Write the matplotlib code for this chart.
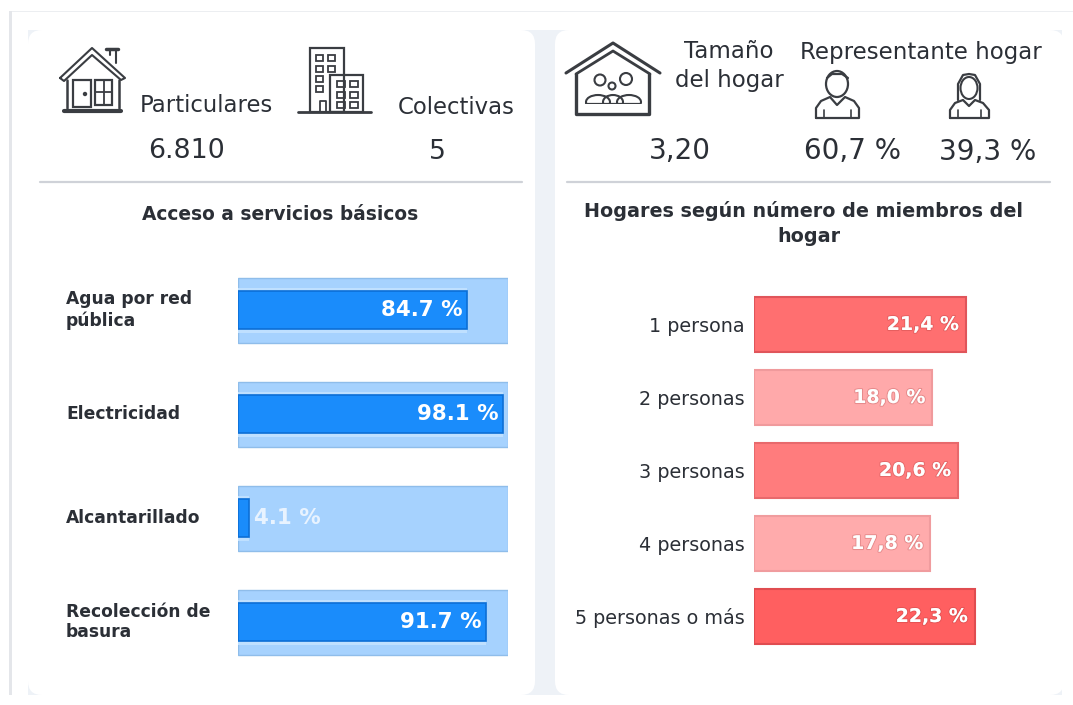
import matplotlib
matplotlib.use("Agg")
import matplotlib.pyplot as plt
import matplotlib.patheffects as pe
from matplotlib.patches import Rectangle, Circle, FancyBboxPatch, Ellipse

plt.rcParams['font.family'] = ['DejaVu Sans']

W, H = 1073, 705
TEXT = '#2b2f36'

# servicios basicos
services = ["Agua por red\npública", "Electricidad", "Alcantarillado", "Recolección de\nbasura"]
service_values = [84.7, 98.1, 4.1, 91.7]
service_labels = ["84.7 %", "98.1 %", "4.1 %", "91.7 %"]

# miembros del hogar
members = ["1 persona", "2 personas", "3 personas", "4 personas", "5 personas o más"]
member_values = [21.4, 18.0, 20.6, 17.8, 22.3]
member_labels = ["21,4 %", "18,0 %", "20,6 %", "17,8 %", "22,3 %"]
member_colors = ['#ff6f70', '#ffa9aa', '#ff7c7d', '#ffabac', '#ff5f60']
member_edges = ['#e0555a', '#f09a9c', '#e8696c', '#f09c9e', '#e04c50']

fig = plt.figure(figsize=(W / 100, H / 100), dpi=100, facecolor='white')


def px_axes(x0, y0, x1, y1, **kw):
    return fig.add_axes([x0 / W, 1 - y1 / H, (x1 - x0) / W, (y1 - y0) / H], **kw)


bg = px_axes(0, 0, W, H)
bg.set_xlim(0, W)
bg.set_ylim(H, 0)
bg.axis('off')


def line(xs, ys, lw=1.8, color='#3a3d42'):
    bg.plot(xs, ys, color=color, lw=lw, solid_capstyle='round', solid_joinstyle='round')


def box(x0, y0, x1, y1, lw=1.6):
    bg.add_patch(Rectangle((x0, y0), x1 - x0, y1 - y0, fill=False, ec='#3a3d42', lw=lw, zorder=4))


# fondo y tarjetas
bg.add_patch(Rectangle((9, 11), W - 9, 1, color='#eceef1', lw=0))
bg.add_patch(Rectangle((9, 11), 3, 684, color='#e4e6ea', lw=0))
bg.add_patch(Rectangle((12, 30), 1050, 665, color='#eef2f7', lw=0))
bg.add_patch(Rectangle((12, 12), 1061, 18, color='white', lw=0))
for x0, x1 in [(28, 535), (555, 1064)]:
    bg.add_patch(FancyBboxPatch((x0 + 14, 30 + 14), x1 - x0 - 28, 665 - 28,
                                boxstyle="round,pad=14,rounding_size=14", fc='white', ec='none'))
bg.add_patch(Rectangle((12, 30), 16, 665, color='white', lw=0))
bg.add_patch(Rectangle((1064, 30), 9, 665, color='white', lw=0))

# casa particular
line([60, 92, 125, 121, 92, 64, 60], [78, 48, 78, 80, 55, 81, 78], 1.5)
line([110, 110], [55, 49], 1.5); line([116, 116], [49, 63], 1.5)
line([106, 118], [49, 49], 2.5)
line([67, 67], [80, 108]); line([119, 119], [80, 108])
box(73, 80, 91, 107); box(95, 80, 112, 105)
line([103.5, 103.5], [80, 105], 1.3); line([95, 112], [92, 92], 1.3)
bg.add_patch(Circle((85, 94), 1.5, color='#3a3d42'))
line([64, 121], [111, 111], 3)

# edificio colectivas
box(310, 48, 344, 112)
bg.add_patch(Rectangle((330, 75), 33, 37, fc='white', ec='#3a3d42', lw=1.6, zorder=3))
for wy in [55, 66, 76, 86]:
    for wx in [316, 328]:
        if wx == 328 and wy > 70:
            continue
        box(wx, wy, wx + 7, wy + 6, 1.3)
for wy in [81, 92, 102]:
    for wx in [337, 350]:
        box(wx, wy, wx + 8, wy + 6, 1.3)
line([320, 320, 326, 326], [112, 101, 101, 112], 1.3)
line([298, 371], [112, 112], 2)

# casa familia
line([566, 613, 660], [73, 43, 73], 2.2)
line([576, 613, 650], [74, 51, 74], 2)
line([576, 576, 649, 649], [74, 114, 114, 74], 2.4)
for cx, cy, r in [(600, 80, 5.5), (626, 79, 6), (612, 86, 3.5)]:
    bg.add_patch(Circle((cx, cy), r, fill=False, ec='#3a3d42', lw=1.5))
for cx, wd in [(598, 24), (629, 24), (613, 20)]:
    bg.add_patch(Ellipse((cx, 102), wd, 14, fill=False, ec='#3a3d42', lw=1.5))
bg.add_patch(Rectangle((584, 104), 58, 8, color='white', lw=0, zorder=3))
line([586, 640], [104, 104], 1.6)

# hombre y mujer
bg.add_patch(Ellipse((837, 84), 22, 26, fill=False, ec='#3a3d42', lw=1.6))
line([827, 832, 842, 848], [78, 74, 74, 78], 1.6)
line([816, 816, 821, 830, 837, 845, 854, 859, 859, 816], [118, 108, 101, 97, 105, 97, 101, 108, 118, 118], 1.6)
line([824, 824], [110, 118], 1.2); line([851, 851], [110, 118], 1.2)
bg.add_patch(Ellipse((969, 88), 17, 22, fill=False, ec='#3a3d42', lw=1.5))
line([958, 958, 963, 969, 975, 980, 980], [100, 84, 75, 74, 75, 84, 100], 1.6)
line([950, 950, 955, 963, 969, 975, 983, 989, 989, 950], [118, 110, 103, 100, 106, 100, 103, 110, 118, 118], 1.6)
line([958, 958], [110, 118], 1.2); line([981, 981], [110, 118], 1.2)

# textos de cabecera
bg.text(206, 105, "Particulares", fontsize=16.4, color=TEXT, ha='center', va='center')
bg.text(456, 107, "Colectivas", fontsize=16.4, color=TEXT, ha='center', va='center')
bg.text(187, 151, "6.810", fontsize=19.3, color=TEXT, ha='center', va='center')
bg.text(437, 152, "5", fontsize=19.3, color=TEXT, ha='center', va='center')
bg.text(729, 51, "Tamaño", fontsize=16.5, color=TEXT, ha='center', va='center')
bg.text(729, 81, "del hogar", fontsize=16.5, color=TEXT, ha='center', va='center')
bg.text(921, 53, "Representante hogar", fontsize=16.5, color=TEXT, ha='center', va='center')
bg.text(680, 151, "3,20", fontsize=20, color=TEXT, ha='center', va='center')
bg.text(853, 151, "60,7 %", fontsize=20, color=TEXT, ha='center', va='center')
bg.text(988, 152, "39,3 %", fontsize=20, color=TEXT, ha='center', va='center')
line([40, 522], [182, 182], 1.6, '#cfd2d8')
line([567, 1050], [182, 182], 1.6, '#cfd2d8')
bg.text(280, 214, "Acceso a servicios básicos", fontsize=13.4, fontweight='bold', color=TEXT, ha='center', va='center')
bg.text(804, 211, "Hogares según número de miembros del", fontsize=13.8, fontweight='bold', color=TEXT, ha='center', va='center')
bg.text(809, 237, "hogar", fontsize=13.8, fontweight='bold', color=TEXT, ha='center', va='center')

# barras servicios
ax1 = px_axes(238, 258, 508, 674)
ax1.patch.set_alpha(0)
ypos = list(range(len(services)))
ax1.barh(ypos, [100] * 4, height=65 / 104, color='#a6d2fe', edgecolor='#8fbdea', lw=1)
ax1.barh(ypos, service_values, height=45 / 104, color='#bfe0ff', lw=0)
ax1.barh(ypos, service_values, height=38 / 104, color='#1a8cfb', edgecolor='#0c6fd6', lw=1.2)
ax1.set_xlim(0, 100)
ax1.set_ylim(3.5, -0.5)
ax1.axis('off')
for i, v in enumerate(service_values):
    if v < 15:
        ax1.text(v + 1.7, i, service_labels[i], color='#e8f3ff', fontsize=15.4, fontweight='bold', ha='left', va='center')
    else:
        ax1.text(v - 1.7, i, service_labels[i], color='white', fontsize=15.4, fontweight='bold', ha='right', va='center')
    ax1.annotate(services[i], xy=(0, i), xycoords=('axes fraction', 'data'), xytext=(-172, 0),
                 textcoords='offset pixels', fontsize=12.3, fontweight='bold', color=TEXT, ha='left', va='center',
                 linespacing=1.2, annotation_clip=False)

# barras miembros
ax2 = px_axes(754, 288, 1064, 653)
ax2.patch.set_alpha(0)
ypos2 = list(range(len(members)))
ax2.barh(ypos2, member_values, height=55 / 73, color=member_colors, edgecolor=member_edges, lw=1.5)
ax2.set_xlim(0, 310 / 9.9)
ax2.set_ylim(4.5, -0.5)
ax2.set_yticks(ypos2, members, fontsize=13.8, color=TEXT)
ax2.set_xticks([])
ax2.tick_params(axis='y', length=0, pad=7)
for s in ax2.spines.values():
    s.set_visible(False)
for i, v in enumerate(member_values):
    ax2.text(v - 0.7, i, member_labels[i], color='white', fontsize=13.6, fontweight='bold', ha='right', va='center',
             path_effects=[pe.withStroke(linewidth=1.5, foreground='#a0303040')])

fig.savefig("out.png", dpi=100)
